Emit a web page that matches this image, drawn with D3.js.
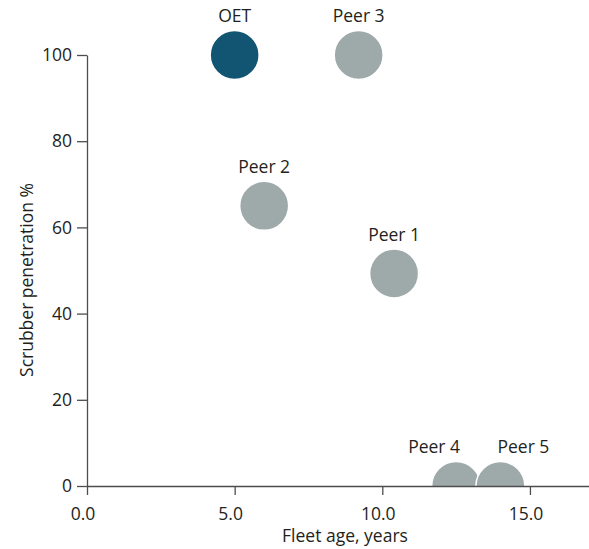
<!DOCTYPE html>
<html>
<head>
<meta charset="utf-8">
<script src="https://cdn.jsdelivr.net/npm/d3@7"></script>
<style>
  html, body { margin: 0; padding: 0; background: #fff; }
  svg { display: block; }
  text { font-family: "Open Sans", "Noto Sans", sans-serif; fill: #231f20; }
</style>
</head>
<body>
<svg id="chart" width="589" height="549"></svg>
<script>
const names = ["OET", "Peer 3", "Peer 2", "Peer 1", "Peer 4", "Peer 5"];
const fleetAge = [5.0, 9.2, 6.0, 10.4, 12.5, 14.0];
const scrubberPct = [100, 100, 65, 49.3, 0, 0];
const highlight = [true, false, false, false, false, false];
const xTicks = [0, 5, 10, 15];
const yTicks = [0, 20, 40, 60, 80, 100];

const svg = d3.select("#chart");
const W = 589, H = 549;
const m = { left: 87, right: 0, top: 55, bottom: 63 };
const fs = "17.5px";

const x = d3.scaleLinear().domain([0, 17]).range([m.left, W - m.right]);
const y = d3.scaleLinear().domain([0, 100]).range([H - m.bottom, m.top]);

svg.append("defs").append("clipPath").attr("id", "plotclip")
  .append("rect").attr("x", 0).attr("y", 0).attr("width", W).attr("height", y(0));

const axisColor = "#4d4d4f";

// points
const data = names.map((n, i) => ({ name: n, x: fleetAge[i], y: scrubberPct[i], hl: highlight[i] }));
const g = svg.append("g").attr("clip-path", "url(#plotclip)");
g.selectAll("circle").data(data).enter().append("circle")
  .attr("cx", d => x(d.x))
  .attr("cy", d => y(d.y))
  .attr("r", 24.5)
  .attr("fill", d => d.hl ? "#115572" : "#9eaaaa")
  .attr("stroke", "#fff")
  .attr("stroke-width", 1.5);

// labels (nudge apart the two labels that sit on the baseline)
const labelNudge = { "Peer 4": -22, "Peer 5": 23 };
svg.selectAll("text.lbl").data(data).enter().append("text")
  .attr("class", "lbl")
  .attr("x", d => x(d.x) + (labelNudge[d.name] || 0))
  .attr("y", d => y(d.y) - 33)
  .attr("text-anchor", "middle")
  .style("font-size", fs)
  .text(d => d.name);

// x axis
const xAxis = svg.append("g").attr("transform", `translate(0,${y(0)})`)
  .call(d3.axisBottom(x).tickValues(xTicks).tickFormat(d3.format(".1f")).tickSize(9).tickSizeOuter(0));
xAxis.select(".domain").attr("stroke", axisColor).attr("stroke-width", 1.3);
xAxis.selectAll(".tick line").attr("stroke", axisColor).attr("stroke-width", 1.3);
xAxis.selectAll(".tick text").style("font-size", fs).attr("fill", "#231f20")
  .attr("dy", "1.25em").attr("dx", -4.5);

// y axis
const yAxis = svg.append("g").attr("transform", `translate(${x(0)},0)`)
  .call(d3.axisLeft(y).tickValues(yTicks).tickSize(10).tickSizeOuter(0).tickPadding(5));
yAxis.select(".domain").attr("stroke", axisColor).attr("stroke-width", 1.3);
yAxis.selectAll(".tick line").attr("stroke", axisColor).attr("stroke-width", 1.3);
yAxis.selectAll(".tick text").style("font-size", fs).attr("fill", "#231f20");

// titles
svg.append("text")
  .attr("x", 345).attr("y", 542)
  .attr("text-anchor", "middle")
  .style("font-size", fs)
  .text("Fleet age, years");

svg.append("text")
  .attr("transform", "translate(33,280) rotate(-90)")
  .attr("text-anchor", "middle")
  .style("font-size", fs)
  .text("Scrubber penetration %");
</script>
</body>
</html>
